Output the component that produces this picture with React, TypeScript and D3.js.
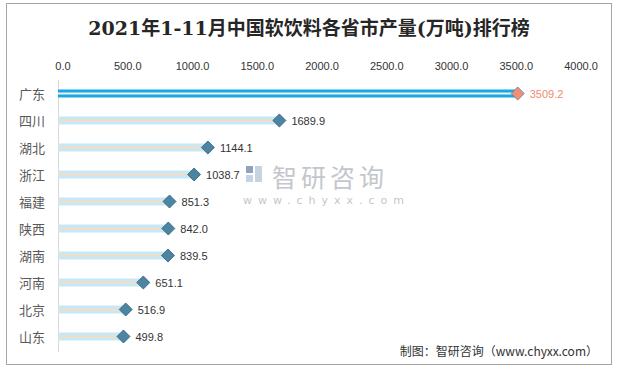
import React, { useRef, useEffect } from 'react';
import * as d3 from 'd3';

const provinces = ['广东', '四川', '湖北', '浙江', '福建', '陕西', '湖南', '河南', '北京', '山东'];
const output = [3509.2, 1689.9, 1144.1, 1038.7, 851.3, 842.0, 839.5, 651.1, 516.9, 499.8];
const ticks = [0, 500, 1000, 1500, 2000, 2500, 3000, 3500, 4000];

const W = 618;
const H = 369;

const App: React.FC = () => {
  const ref = useRef<SVGSVGElement | null>(null);

  useEffect(() => {
    const svg = d3.select(ref.current);
    svg.selectAll('*').remove();

    // outer frame
    svg.append('rect')
      .attr('x', 6.5).attr('y', 3.5)
      .attr('width', 605).attr('height', 361)
      .attr('fill', '#fff')
      .attr('stroke', '#a6a6a6');

    svg.append('text')
      .attr('x', 309).attr('y', 35)
      .attr('text-anchor', 'middle')
      .attr('font-family', 'DejaVu Serif, "Noto Sans CJK SC", serif')
      .attr('font-weight', 'bold')
      .attr('font-size', 19)
      .attr('fill', '#262626')
      .text('2021年1-11月中国软饮料各省市产量(万吨)排行榜');

    const x = d3.scaleLinear().domain([0, 4000]).range([58, 582]);
    // tick labels sit slightly inside the plot in the original
    const xLabel = d3.scaleLinear().domain([0, 4000]).range([63, 581]);
    const y = d3.scaleBand().domain(provinces).range([80, 350]).paddingInner(0);

    // watermark
    const wm = svg.append('g').attr('fill', '#c3c7cc');
    wm.append('rect').attr('x', 246).attr('y', 166).attr('width', 7).attr('height', 7).attr('fill', '#8fa3bd');
    wm.append('rect').attr('x', 246).attr('y', 175).attr('width', 7).attr('height', 7).attr('fill', '#c6d3e2');
    wm.append('rect').attr('x', 255).attr('y', 166).attr('width', 7).attr('height', 16).attr('fill', '#c6d3e2');
    wm.append('text')
      .attr('x', 272).attr('y', 187)
      .attr('font-family', '"Noto Sans CJK SC", sans-serif')
      .attr('font-size', 25)
      .attr('letter-spacing', 4)
      .text('智研咨询');
    wm.append('text')
      .attr('x', 243).attr('y', 204)
      .attr('font-family', 'DejaVu Sans, sans-serif')
      .attr('font-size', 11)
      .attr('letter-spacing', 6)
      .text('www.chyxx.com');

    // top axis labels
    svg.append('g')
      .selectAll('text')
      .data(ticks)
      .join('text')
      .attr('x', d => xLabel(d))
      .attr('y', 70)
      .attr('text-anchor', 'middle')
      .attr('font-family', '"Liberation Sans", "Noto Sans", sans-serif')
      .attr('font-size', 11)
      .attr('fill', '#333')
      .text(d => d.toFixed(1));

    // category axis
    svg.append('line')
      .attr('x1', 58.5).attr('x2', 58.5)
      .attr('y1', 80).attr('y2', 352)
      .attr('stroke', '#d9d9d9');

    svg.append('g')
      .selectAll('text')
      .data(provinces)
      .join('text')
      .attr('x', 32)
      .attr('y', d => (y(d) as number) + y.bandwidth() / 2 + 5)
      .attr('text-anchor', 'middle')
      .attr('font-family', '"Noto Sans CJK SC", sans-serif')
      .attr('font-size', 13)
      .attr('fill', '#595959')
      .text(d => d);

    const rows = svg.append('g')
      .selectAll('g')
      .data(provinces)
      .join('g')
      .attr('transform', d => `translate(0,${(y(d) as number) + y.bandwidth() / 2})`);

    rows.append('rect')
      .attr('x', x(0))
      .attr('y', -4)
      .attr('height', 8)
      .attr('width', (d, i) => x(output[i]) - x(0))
      .attr('fill', (d, i) => i === 0 ? '#17a9e6' : '#c6e8f7');

    rows.append('rect')
      .attr('x', x(0))
      .attr('y', -1)
      .attr('height', 2)
      .attr('width', (d, i) => x(output[i]) - x(0))
      .attr('fill', (d, i) => i === 0 ? '#f4efe8' : '#f8dcc0');

    rows.append('path')
      .attr('d', d3.symbol(d3.symbolSquare, 85)() as string)
      .attr('transform', (d, i) => `translate(${x(output[i])},0) rotate(45)`)
      .attr('fill', (d, i) => i === 0 ? '#ef8f78' : '#4d84a1')
      .attr('stroke', (d, i) => i === 0 ? '#6a7f8c' : '#2f6580')
      .attr('stroke-width', 0.8);

    rows.append('text')
      .attr('x', (d, i) => x(output[i]) + 12)
      .attr('y', 4)
      .attr('font-family', '"Liberation Sans", "Noto Sans", sans-serif')
      .attr('font-size', 11)
      .attr('fill', (d, i) => i === 0 ? '#f08a6e' : '#333')
      .text((d, i) => output[i].toFixed(1));

    svg.append('text')
      .attr('x', 598).attr('y', 356)
      .attr('text-anchor', 'end')
      .attr('font-family', '"Noto Sans CJK SC", sans-serif')
      .attr('font-size', 12)
      .attr('fill', '#333')
      .text('制图：智研咨询（www.chyxx.com）');
  }, []);

  return (
    <svg
      ref={ref}
      width={W}
      height={H}
      style={{ position: 'absolute', left: 0, top: 0, background: '#fff' }}
    />
  );
};

export default App;
